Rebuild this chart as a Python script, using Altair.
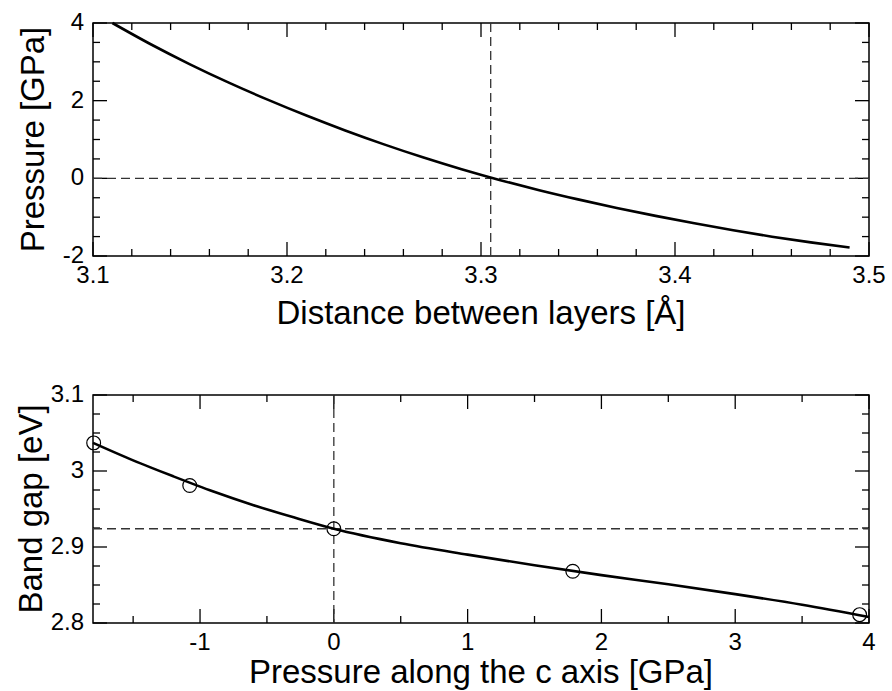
import altair as alt
import pandas as pd

FONT = "Liberation Sans"

# ---------------- top panel data ----------------
dist = [3.11, 3.13, 3.15, 3.17, 3.19, 3.21, 3.23, 3.25, 3.27, 3.29,
        3.31, 3.33, 3.35, 3.37, 3.39, 3.41, 3.43, 3.45, 3.47, 3.49]
pressure = [4.00, 3.446, 2.936, 2.464, 2.026, 1.616, 1.233, 0.875, 0.542, 0.235,
            -0.047, -0.305, -0.542, -0.762, -0.967, -1.158, -1.336, -1.502, -1.650, -1.780]
eq_dist = [3.305]
zero_p = [0.0]

top_x_major = [3.1, 3.2, 3.3, 3.4, 3.5]
top_x_labels = ["3.1", "3.2", "3.3", "3.4", "3.5"]
top_x_minor = [3.12, 3.14, 3.16, 3.18, 3.22, 3.24, 3.26, 3.28, 3.32, 3.34,
               3.36, 3.38, 3.42, 3.44, 3.46, 3.48]
top_y_major = [-2, 0, 2, 4]
top_y_labels = ["-2", "0", "2", "4"]
top_y_minor = [-1.5, -1, -0.5, 0.5, 1, 1.5, 2.5, 3, 3.5]

# ---------------- bottom panel data ----------------
p_curve = [-1.8, -1.5, -1.2, -0.9, -0.6, -0.3, 0.0, 0.5, 1.0, 1.5, 2.0, 2.5, 3.0, 3.5, 4.0]
gap_curve = [3.037, 3.014, 2.993, 2.973, 2.955, 2.939, 2.924, 2.905, 2.890, 2.876,
             2.863, 2.851, 2.838, 2.824, 2.808]
p_pts = [-1.795, -1.077, 0.0, 1.786, 3.93]
gap_pts = [3.037, 2.981, 2.924, 2.868, 2.811]
gap0 = [2.924]
p0 = [0.0]

bot_x_major = [-1, 0, 1, 2, 3, 4]
bot_x_labels = ["-1", "0", "1", "2", "3", "4"]
bot_x_minor = [-1.5, -0.5, 0.5, 1.5, 2.5, 3.5]
bot_y_major = [2.8, 2.9, 3.0, 3.1]
bot_y_labels = ["2.8", "2.9", "3", "3.1"]
bot_y_minor = [2.825, 2.85, 2.875, 2.925, 2.95, 2.975, 3.025, 3.05, 3.075]

W = 776
MAJ = 14   # major tick length, px
MIN = 7    # minor tick length, px


def panel(xs, ys, xdom, ydom, xmaj, xlab, xmin, ymaj, ylab, ymin, xtitle, ytitle,
          hline, vline, H, xtitleY, ytitleX, pts=None):
    xsc = alt.Scale(domain=xdom, nice=False, zero=False)
    ysc = alt.Scale(domain=ydom, nice=False, zero=False)

    df = pd.DataFrame({"x": xs, "y": ys})
    line = alt.Chart(df).mark_line(color="black", strokeWidth=2.6,
                                   interpolate="monotone").encode(
        x=alt.X("x:Q", scale=xsc, axis=None),
        y=alt.Y("y:Q", scale=ysc, axis=None),
    )
    hdash = alt.Chart(pd.DataFrame({"v": hline})).mark_rule(
        color="#333", strokeWidth=1.3, strokeDash=[9, 5]).encode(
        y=alt.Y("v:Q", scale=ysc, axis=None), x=alt.value(0), x2=alt.value(W))
    vdash = alt.Chart(pd.DataFrame({"v": vline})).mark_rule(
        color="#333", strokeWidth=1.3, strokeDash=[9, 5]).encode(
        x=alt.X("v:Q", scale=xsc, axis=None), y=alt.value(0), y2=alt.value(H))

    def xt(vals, y0, y1):
        return alt.Chart(pd.DataFrame({"t": vals})).mark_rule(
            color="black", strokeWidth=1.3).encode(
            x=alt.X("t:Q", scale=xsc, axis=None), y=alt.value(y0), y2=alt.value(y1))

    def yt(vals, x0, x1):
        return alt.Chart(pd.DataFrame({"t": vals})).mark_rule(
            color="black", strokeWidth=1.3).encode(
            y=alt.Y("t:Q", scale=ysc, axis=None), x=alt.value(x0), x2=alt.value(x1))

    ticks = [xt(xmaj, H, H - MAJ), xt(xmin, H, H - MIN),
             xt(xmaj, 0, MAJ), xt(xmin, 0, MIN),
             yt(ymaj, 0, MAJ), yt(ymin, 0, MIN),
             yt(ymaj, W, W - MAJ), yt(ymin, W, W - MIN)]

    xlabels = alt.Chart(pd.DataFrame({"v": xmaj, "lab": xlab})).mark_text(
        font=FONT, fontSize=24, color="black", align="center", baseline="top").encode(
        x=alt.X("v:Q", scale=xsc, axis=None), y=alt.value(H + 8), text="lab:N")
    ylabels = alt.Chart(pd.DataFrame({"v": ymaj, "lab": ylab})).mark_text(
        font=FONT, fontSize=24, color="black", align="right", baseline="middle").encode(
        y=alt.Y("v:Q", scale=ysc, axis=None), x=alt.value(-9), text="lab:N")
    xtit = alt.Chart(pd.DataFrame({"t": [xtitle]})).mark_text(
        font=FONT, fontSize=33, color="black", align="center",
        baseline="alphabetic").encode(
        x=alt.value(W / 2), y=alt.value(H + xtitleY), text="t:N")
    ytit = alt.Chart(pd.DataFrame({"t": [ytitle]})).mark_text(
        font=FONT, fontSize=33, color="black", align="center",
        baseline="alphabetic", angle=270).encode(
        x=alt.value(ytitleX), y=alt.value(H / 2), text="t:N")

    layers = ticks + [hdash, vdash, line, xlabels, ylabels, xtit, ytit]
    if pts is not None:
        pdf = pd.DataFrame({"x": pts[0], "y": pts[1]})
        layers.append(alt.Chart(pdf).mark_point(
            shape="circle", filled=False, color="black", size=190,
            strokeWidth=1.2, opacity=1).encode(
            x=alt.X("x:Q", scale=xsc, axis=None),
            y=alt.Y("y:Q", scale=ysc, axis=None)))
    return alt.layer(*layers).properties(width=W, height=H)


top = panel(dist, pressure, [3.1, 3.5], [-2, 4], top_x_major, top_x_labels, top_x_minor,
            top_y_major, top_y_labels, top_y_minor,
            "Distance between layers [Å]", "Pressure [GPa]",
            zero_p, eq_dist, 233, 68, -49)
bottom = panel(p_curve, gap_curve, [-1.8, 4], [2.8, 3.1], bot_x_major, bot_x_labels,
               bot_x_minor, bot_y_major, bot_y_labels, bot_y_minor,
               "Pressure along the c axis [GPa]", "Band gap [eV]",
               gap0, p0, 228, 60, -51, pts=(p_pts, gap_pts))

chart = alt.vconcat(top, bottom, spacing=139, bounds="flush").properties(
    padding={"left": 15, "top": 10, "right": 5, "bottom": 5},
    background="white",
).configure_view(stroke="black", strokeWidth=1.5)

chart.save("out.html", embed_options={"renderer": "svg", "actions": False})
